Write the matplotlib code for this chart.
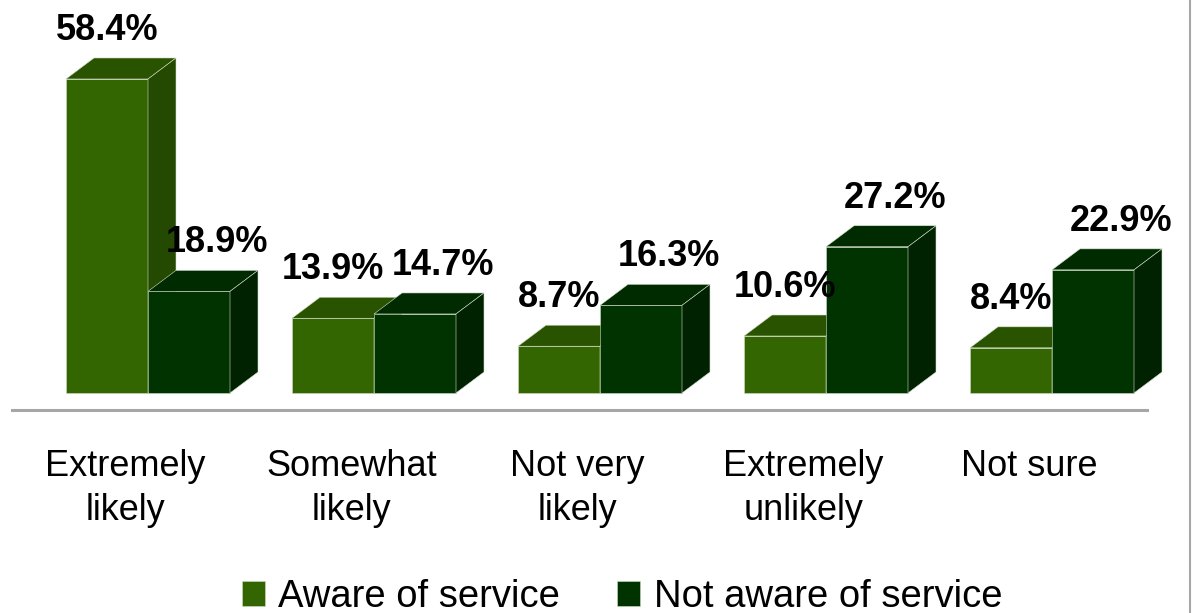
import matplotlib.pyplot as plt
from matplotlib.patches import Polygon, Patch
from matplotlib.lines import Line2D

plt.rcParams['font.family'] = ['Liberation Sans', 'DejaVu Sans']

categories = ["Extremely\nlikely", "Somewhat\nlikely", "Not very\nlikely",
              "Extremely\nunlikely", "Not sure"]
aware = [58.4, 13.9, 8.7, 10.6, 8.4]
not_aware = [18.9, 14.7, 16.3, 27.2, 22.9]
series_names = ["Aware of service", "Not aware of service"]

# front / top / side shades for the fake 3d boxes
aware_cols = ("#336600", "#2a5300", "#244900")
not_aware_cols = ("#003300", "#002b00", "#002200")
edge = "#cfdcc6"

W, H = 1193, 613
fig = plt.figure(figsize=(W / 100, H / 100), dpi=100)
ax = fig.add_axes([0, 0, 1, 1])
ax.axis("off")

# one x unit = distance between groups, y in percent
px_x = 226.0
px_y = 5.377
base_px = 393
ax.set_xlim(-148 / px_x, (W - 148) / px_x)
ax.set_ylim(-(H - base_px) / px_y, base_px / px_y)

w = 82 / px_x
dx = 28 / px_x
dy = 21 / px_y


def box(x0, h, cols):
    front, top, side = cols
    ax.bar(x0, h, width=w, align="edge", color=front, edgecolor=edge,
           linewidth=0.4, zorder=2)
    ax.add_patch(Polygon([(x0, h), (x0 + dx, h + dy), (x0 + w + dx, h + dy), (x0 + w, h)],
                         closed=True, facecolor=top, edgecolor=edge, linewidth=0.4, zorder=2))
    ax.add_patch(Polygon([(x0 + w, 0), (x0 + w + dx, dy), (x0 + w + dx, h + dy), (x0 + w, h)],
                         closed=True, facecolor=side, edgecolor=edge, linewidth=0.4, zorder=2))


for i in range(len(categories)):
    box(i - w, aware[i], aware_cols)
    box(i, not_aware[i], not_aware_cols)
    ax.text(i - w / 2, aware[i] + 9.0, f"{aware[i]}%", ha="center", va="center",
            fontsize=26, fontweight="bold", zorder=3)
    ax.text(i + w / 2 + dx, not_aware[i] + 9.0, f"{not_aware[i]}%", ha="center", va="center",
            fontsize=26, fontweight="bold", zorder=3)
    ax.text(i - 0.10, -(449 - base_px) / px_y, categories[i], ha="center", va="top",
            fontsize=26, linespacing=1.35, zorder=3)

# floor line and right frame edge
fig.add_artist(Line2D([12 / W, 1147 / W], [1 - 410 / H, 1 - 410 / H], color="#a6a6a6", lw=2.2))
fig.add_artist(Line2D([1190 / W, 1190 / W], [0, 1], color="#a6a6a6", lw=1.5))

handles = [Patch(facecolor=aware_cols[0], edgecolor=edge, linewidth=0.4),
           Patch(facecolor=not_aware_cols[0], edgecolor=edge, linewidth=0.4)]
fig.legend(handles, series_names, loc="center", bbox_to_anchor=(622 / W, 1 - 597 / H),
           ncol=2, frameon=False, fontsize=27.5, handlelength=0.6, handleheight=0.6,
           handletextpad=0.35, columnspacing=1.5, borderpad=0)

fig.savefig("out.png", dpi=100, facecolor="white")
